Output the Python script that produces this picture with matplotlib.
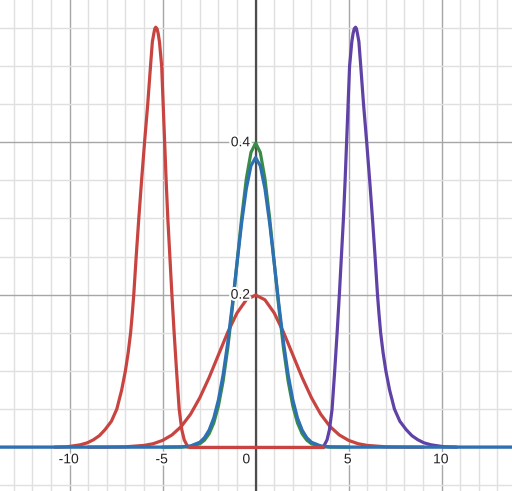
import matplotlib.pyplot as plt
import matplotlib.patheffects as pe
import numpy as np

# Desmos-style colours
RED = '#c74440'
BLUE = '#2d70b3'
GREEN = '#388c46'
PURPLE = '#6042a6'

# green curve (standard normal)
green_x = [-5, -4, -3.5, -3, -2.75, -2.5, -2.25, -2, -1.75, -1.5, -1.25, -1, -0.75, -0.5, -0.25,
           0, 0.25, 0.5, 0.75, 1, 1.25, 1.5, 1.75, 2, 2.25, 2.5, 2.75, 3, 3.5, 4, 5]
green_y = [0.0, 0.0001, 0.0009, 0.0044, 0.0091, 0.0175, 0.0317, 0.054, 0.0863, 0.1295, 0.1826, 0.242,
           0.3011, 0.3521, 0.3867, 0.3989, 0.3867, 0.3521, 0.3011, 0.242, 0.1826, 0.1295, 0.0863,
           0.054, 0.0317, 0.0175, 0.0091, 0.0044, 0.0009, 0.0001, 0.0]

# blue curve, slightly lower peak and a touch wider
blue_x = [-14, -5, -4, -3.5, -3, -2.75, -2.5, -2.25, -2, -1.75, -1.5, -1.25, -1, -0.75, -0.5, -0.25,
          0, 0.25, 0.5, 0.75, 1, 1.25, 1.5, 1.75, 2, 2.25, 2.5, 2.75, 3, 3.5, 4, 5, 14]
blue_y = [0.0, 0.0, 0.0003, 0.0015, 0.0064, 0.0123, 0.0223, 0.0382, 0.0619, 0.0947, 0.1369, 0.187,
          0.2415, 0.2945, 0.3392, 0.3692, 0.38, 0.3692, 0.3392, 0.2945, 0.2415, 0.187, 0.1369,
          0.0947, 0.0619, 0.0382, 0.0223, 0.0123, 0.0064, 0.0015, 0.0003, 0.0, 0.0]

# wide red curve
wide_x = [-9, -8, -7, -6, -5.5, -5, -4.5, -4, -3.5, -3, -2.5, -2, -1.5, -1, -0.5,
          0, 0.5, 1, 1.5, 2, 2.5, 3, 3.5, 4, 4.5, 5, 5.5, 6, 7, 8, 9]
wide_y = [0.0, 0.0001, 0.0004, 0.0022, 0.0045, 0.0088, 0.0159, 0.027, 0.0431, 0.0648, 0.0913,
          0.121, 0.1506, 0.176, 0.1933, 0.1995, 0.1933, 0.176, 0.1506, 0.121, 0.0913, 0.0648,
          0.0431, 0.027, 0.0159, 0.0088, 0.0045, 0.0022, 0.0004, 0.0001, 0.0]

# purple bump on the right
purple_x = [3.66, 3.70, 3.84, 3.97, 4.11, 4.25, 4.38, 4.50, 4.61, 4.72, 4.81, 4.89, 4.97, 5.05,
            5.17, 5.24, 5.30, 5.37, 5.42, 5.47, 5.55, 5.65, 5.80, 5.97, 6.13, 6.28, 6.42, 6.55,
            6.63, 6.72, 6.85, 7.00, 7.20, 7.46, 7.75, 8.09, 8.40, 8.72, 9.05, 9.43, 10.1, 10.8]
purple_y = [0.0, 0.003, 0.0096, 0.023, 0.05, 0.10, 0.15, 0.20, 0.25, 0.30, 0.35, 0.40, 0.45, 0.50,
            0.532, 0.543, 0.549, 0.551, 0.549, 0.543, 0.532, 0.50, 0.45, 0.40, 0.35, 0.30, 0.25,
            0.20, 0.175, 0.15, 0.124, 0.10, 0.075, 0.05, 0.034, 0.023, 0.015, 0.0096, 0.0056,
            0.003, 0.0005, 0.0]

# narrow red bump on the left is the mirror image of the purple one
red_x = [-x for x in purple_x]
red_y = list(purple_y)
red_flat_x = [-3.66, 3.66]
red_flat_y = [0.0, 0.0]

x_labels = [-10, -5, 0, 5, 10]
y_labels = [0.2, 0.4]

fig = plt.figure(figsize=(5.12, 4.91), dpi=100)
ax = fig.add_axes([0, 0, 1, 1])
ax.set_xlim(-13.74, 13.78)
ax.set_ylim(-0.0576, 0.5867)
ax.axis('off')

# grid
for gx in np.arange(-13, 14, 1):
    major = gx % 5 == 0
    ax.axvline(gx, color='#a6a6a6' if major else '#e0e0e0', lw=1.0, zorder=0)
for gy in np.arange(-0.05, 0.6, 0.05):
    major = abs(gy / 0.2 - round(gy / 0.2)) < 1e-6
    ax.axhline(gy, color='#a6a6a6' if major else '#e0e0e0', lw=1.0, zorder=0)
ax.axvline(0, color='#4d4d4d', lw=1.6, zorder=1)
ax.axhline(0, color='#4d4d4d', lw=1.6, zorder=1)

lw = 2.3
style = dict(lw=lw, solid_joinstyle='round', solid_capstyle='round')
ax.plot(wide_x, wide_y, color=RED, zorder=2, **style)
ax.plot(green_x, green_y, color=GREEN, zorder=3, **style)
ax.plot(purple_x, purple_y, color=PURPLE, zorder=3, **style)
ax.plot(red_x, red_y, color=RED, zorder=3, **style)
ax.plot(blue_x, blue_y, color=BLUE, zorder=4, **style)
ax.plot(red_flat_x, red_flat_y, color=RED, lw=lw, zorder=5, solid_capstyle='butt')

halo = [pe.withStroke(linewidth=3, foreground='white')]
for v in x_labels:
    xpos = -0.5 if v == 0 else v - 0.05
    ax.text(xpos, -0.016, str(v), ha='center', va='center', fontsize=10,
            family='Liberation Sans', color='#222222', path_effects=halo, zorder=6)
for v in y_labels:
    ax.text(-0.3, v, str(v), ha='right', va='center', fontsize=10,
            family='Liberation Sans', color='#222222', path_effects=halo, zorder=6)

fig.savefig('out.png', dpi=100)
